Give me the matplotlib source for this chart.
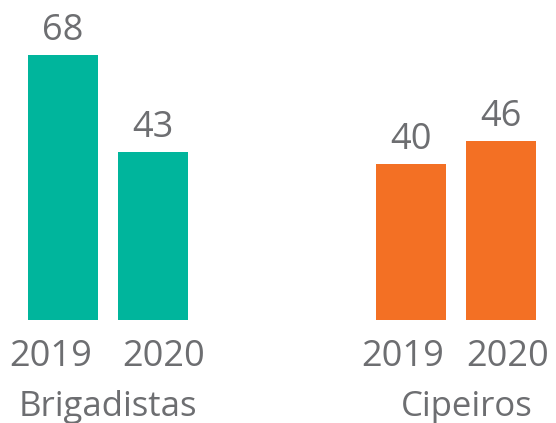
import matplotlib
matplotlib.use("Agg")
import matplotlib.pyplot as plt

groups = ["Brigadistas", "Cipeiros"]
years = ["2019", "2020"]
brigadistas = [68, 43]
cipeiros = [40, 46]

teal = "#00B59C"
orange = "#F37024"
gray = "#6D6E71"

plt.rcParams["font.family"] = ["Open Sans", "DejaVu Sans"]

fig = plt.figure(figsize=(5.56, 4.23), dpi=100)
ax = fig.add_axes([0, 0, 1, 1])
# one data unit = 3.9 px, baseline 103 px above figure bottom
ax.set_xlim(0, 556)
ax.set_ylim(-103 / 3.9, 320 / 3.9)
ax.axis("off")

centers = [[63, 153], [411, 501]]
year_x = [[51, 164], [403, 508]]
group_x = [108, 467]
colors = [teal, orange]
series = [brigadistas, cipeiros]

for g in range(2):
    bars = ax.bar(centers[g], series[g], width=70, color=colors[g])
    for x, v in zip(centers[g], series[g]):
        ax.annotate(str(v), (x, v), xytext=(0, 10.8), textcoords="offset points",
                    ha="center", va="baseline", fontsize=26, color=gray)
    for x, yr in zip(year_x[g], years):
        ax.text(x, -46 / 3.9, yr, ha="center", va="baseline", fontsize=26, color=gray)
    ax.text(group_x[g], -96 / 3.9, groups[g], ha="center", va="baseline",
            fontsize=25, color=gray)

fig.savefig("out.png", dpi=100)
